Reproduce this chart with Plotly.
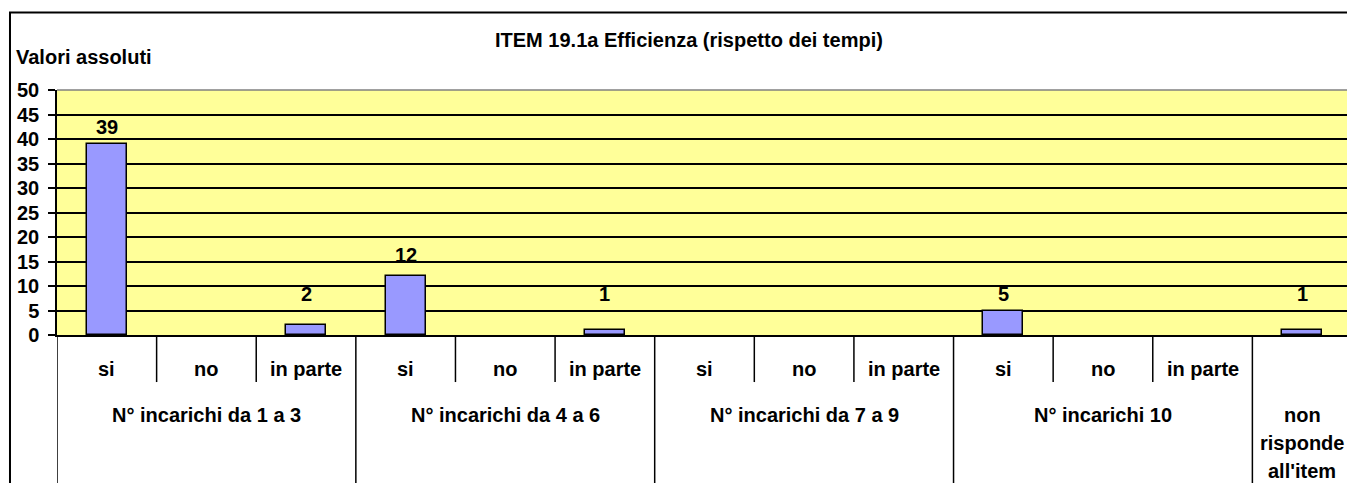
import plotly.graph_objects as go

# ---- data ----
groups = ["N° incarichi da 1 a 3", "N° incarichi da 4 a 6", "N° incarichi da 7 a 9", "N° incarichi 10"]
subcats = ["si", "no", "in parte"]
last_cat_lines = ["non", "risponde", "all'item"]
values = [39, 0, 2, 12, 0, 1, 0, 0, 0, 5, 0, 0, 1]
title_text = "ITEM 19.1a Efficienza (rispetto dei tempi)"
y_title = "Valori assoluti"
y_ticks = [0, 5, 10, 15, 20, 25, 30, 35, 40, 45, 50]

FONT = "Liberation Sans, Arial, sans-serif"
n = len(values)
xpos = [i + 0.5 for i in range(n)]
bar_y = [v if v > 0 else None for v in values]

fig = go.Figure()
fig.add_trace(go.Bar(
    x=xpos, y=bar_y, width=0.4,
    marker=dict(color="#9999FF", line=dict(color="black", width=1.5)),
    hoverinfo="skip", showlegend=False,
))

annotations = []
bold20 = dict(family=FONT, size=20, color="black", weight="bold")
# data labels
for x, v in zip(xpos, values):
    if v > 0:
        annotations.append(dict(
            x=x, y=max(v, 5), xref="x", yref="y", text=str(v), showarrow=False,
            yanchor="bottom", yshift=4 + (4 if 5 < v < 20 else 0), font=bold20))

# category labels
for g, gname in enumerate(groups):
    for s, sname in enumerate(subcats):
        idx = g * 3 + s
        annotations.append(dict(x=xpos[idx], y=-0.139, xref="x", yref="paper", text=sname,
                                showarrow=False, yanchor="middle", font=bold20))
    annotations.append(dict(x=g * 3 + 1.5, y=-0.327, xref="x", yref="paper", text=gname,
                            showarrow=False, yanchor="middle", font=bold20))
for j, line in enumerate(last_cat_lines):
    annotations.append(dict(x=xpos[-1], y=-0.327, xref="x", yref="paper", text=line,
                            showarrow=False, yanchor="middle", yshift=-28 * j, font=bold20))

# titles
annotations.append(dict(x=0.4884, y=1.204, xref="paper", yref="paper", text=title_text,
                        showarrow=False, xanchor="center", yanchor="middle", font=bold20))
annotations.append(dict(x=-0.0332, y=1.136, xref="paper", yref="paper", text=y_title,
                        showarrow=False, xanchor="left", yanchor="middle", font=bold20))

shapes = []
# dividers
for k in range(n + 1):
    y1 = -0.7 if (k % 3 == 0 or k == n) else -0.192
    shapes.append(dict(type="line", xref="x", yref="paper", x0=k, x1=k, y0=0, y1=y1,
                       line=dict(color="black", width=1.5)))
# plot-area grey border top/right
shapes.append(dict(type="line", xref="paper", yref="paper", x0=0, x1=1, y0=1, y1=1,
                   line=dict(color="#808080", width=1.5)))
shapes.append(dict(type="line", xref="paper", yref="paper", x0=1, x1=1, y0=0, y1=1,
                   line=dict(color="#808080", width=1.5)))
# outer chart frame
shapes.append(dict(type="rect", xref="paper", yref="paper", x0=-0.0363, x1=1.03, y0=-0.7, y1=1.316,
                   line=dict(color="black", width=2), fillcolor="rgba(0,0,0,0)", layer="above"))

fig.update_layout(
    width=1347, height=475,
    margin=dict(l=49, r=3, t=82, b=148),
    paper_bgcolor="white", plot_bgcolor="#FFFF99",
    bargap=0,
    xaxis=dict(range=[0, n], showticklabels=False, showgrid=False, zeroline=False,
               showline=True, linecolor="black", linewidth=1.5, fixedrange=True),
    yaxis=dict(range=[0, 50], tickvals=y_ticks, ticktext=[str(t) for t in y_ticks],
               showgrid=True, gridcolor="black", gridwidth=1.5, zeroline=False,
               showline=True, linecolor="black", linewidth=1.5,
               ticks="outside", ticklen=7, tickcolor="black", tickwidth=1.5,
               ticklabelstandoff=5, tickfont=bold20, fixedrange=True),
    annotations=annotations, shapes=shapes,
    font=dict(family=FONT, size=20, color="black"),
)

fig.write_html("out.html")
